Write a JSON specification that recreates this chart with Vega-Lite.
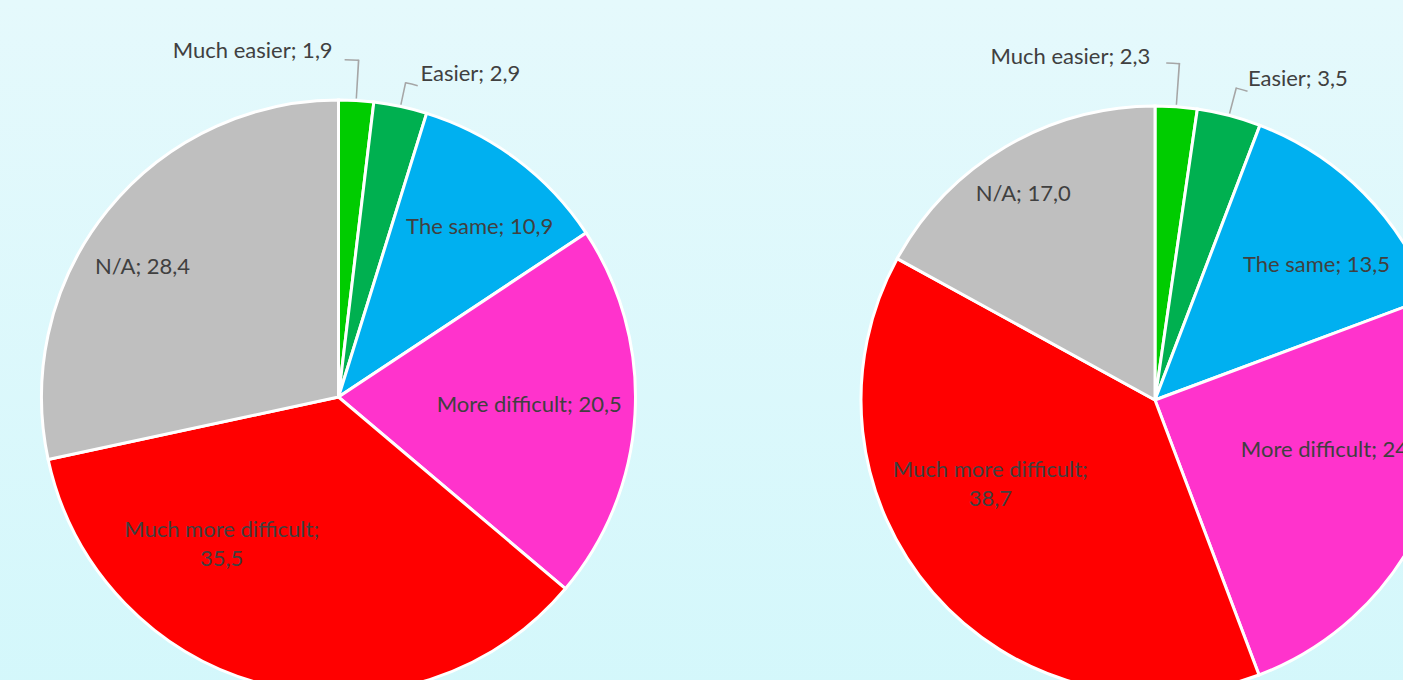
{
  "$schema": "https://vega.github.io/schema/vega-lite/v6.json",
  "padding": 0,
  "spacing": 0,
  "background": "#dcf8fb",
  "config": {"view": {"stroke": null}, "text": {"font": "Lato", "fontSize": 22, "color": "#404040"}},
  "datasets": {
    "survey": [
      {"pie": "A", "category": "Much easier", "value": 1.9, "order": 1},
      {"pie": "A", "category": "Easier", "value": 2.9, "order": 2},
      {"pie": "A", "category": "The same", "value": 10.9, "order": 3},
      {"pie": "A", "category": "More difficult", "value": 20.5, "order": 4},
      {"pie": "A", "category": "Much more difficult", "value": 35.5, "order": 5},
      {"pie": "A", "category": "N/A", "value": 28.4, "order": 6},
      {"pie": "B", "category": "Much easier", "value": 2.3, "order": 1},
      {"pie": "B", "category": "Easier", "value": 3.5, "order": 2},
      {"pie": "B", "category": "The same", "value": 13.5, "order": 3},
      {"pie": "B", "category": "More difficult", "value": 24.9, "order": 4},
      {"pie": "B", "category": "Much more difficult", "value": 38.7, "order": 5},
      {"pie": "B", "category": "N/A", "value": 17.0, "order": 6}
    ]
  },
  "hconcat": [
    {
      "width": 677,
      "height": 794,
      "view": {"stroke": null, "fill": {"gradient": "linear", "x1": 0, "y1": 0, "x2": 0, "y2": 1, "stops": [{"offset": 0, "color": "#e5f9fc"}, {"offset": 1, "color": "#d1f7fb"}]}},
      "data": {"name": "survey"},
      "transform": [
        {"filter": "datum.pie === 'A'"},
        {"window": [{"op": "sum", "field": "value", "as": "cum"}], "sort": [{"field": "order"}], "frame": [null, 0]},
        {"calculate": "datum.cum - datum.value / 2", "as": "mid"},
        {"calculate": "datum.mid - 0.04", "as": "l1"},
        {"calculate": "datum.mid + 0.04", "as": "l2"},
        {"calculate": "datum.mid - 0.66", "as": "hl"},
        {"calculate": "datum.mid + 0.62", "as": "hr"},
        {"calculate": "datum.category + (datum.order === 5 ? ';\\n' : '; ') + replace(format(datum.value, '.1f'), '.', ',')", "as": "label"}
      ],
      "layer": [
        {
          "mark": {"type": "arc", "radius": 297, "stroke": "white", "strokeWidth": 3},
          "encoding": {
            "theta": {"field": "value", "type": "quantitative", "stack": true},
            "order": {"field": "order", "type": "quantitative"},
            "color": {"field": "category", "type": "nominal", "legend": null,
              "scale": {"domain": ["Much easier", "Easier", "The same", "More difficult", "Much more difficult", "N/A"],
                        "range": ["#00cc00", "#00b050", "#00b0f0", "#ff33cc", "#ff0000", "#bfbfbf"]}}
          }
        },
        {
          "transform": [{"filter": "datum.order === 1"}],
          "mark": {"type": "arc", "innerRadius": 299, "outerRadius": 338, "fill": "#a6a6a6"},
          "encoding": {"theta": {"field": "l1", "type": "quantitative", "stack": null}, "theta2": {"field": "l2"}}
        },
        {
          "transform": [{"filter": "datum.order === 1"}],
          "mark": {"type": "arc", "innerRadius": 336.5, "outerRadius": 338, "fill": "#a6a6a6"},
          "encoding": {"theta": {"field": "hl", "type": "quantitative", "stack": null}, "theta2": {"field": "mid"}}
        },
        {
          "transform": [{"filter": "datum.order === 2"}],
          "mark": {"type": "arc", "innerRadius": 299, "outerRadius": 322, "fill": "#a6a6a6"},
          "encoding": {"theta": {"field": "l1", "type": "quantitative", "stack": null}, "theta2": {"field": "l2"}}
        },
        {
          "transform": [{"filter": "datum.order === 2"}],
          "mark": {"type": "arc", "innerRadius": 320.5, "outerRadius": 322, "fill": "#a6a6a6"},
          "encoding": {"theta": {"field": "mid", "type": "quantitative", "stack": null}, "theta2": {"field": "hr"}}
        },
        {
          "transform": [{"filter": "datum.order === 1"}],
          "mark": {"type": "text", "radius": 338, "align": "right", "baseline": "middle", "dx": -26, "dy": -9},
          "encoding": {"theta": {"field": "mid", "type": "quantitative", "stack": null}, "text": {"field": "label"}}
        },
        {
          "transform": [{"filter": "datum.order === 2"}],
          "mark": {"type": "text", "radius": 330, "align": "left", "baseline": "middle", "dx": 13, "dy": 0},
          "encoding": {"theta": {"field": "mid", "type": "quantitative", "stack": null}, "text": {"field": "label"}}
        },
        {
          "transform": [{"filter": "datum.order === 3"}],
          "mark": {"type": "text", "radius": 212, "align": "center", "baseline": "middle", "dx": 14},
          "encoding": {"theta": {"field": "mid", "type": "quantitative", "stack": null}, "text": {"field": "label"}}
        },
        {
          "transform": [{"filter": "datum.order === 4"}],
          "mark": {"type": "text", "radius": 196, "align": "center", "baseline": "middle", "dx": -5, "dy": -3},
          "encoding": {"theta": {"field": "mid", "type": "quantitative", "stack": null}, "text": {"field": "label"}}
        },
        {
          "transform": [{"filter": "datum.order === 5"}],
          "mark": {"type": "text", "radius": 189, "align": "center", "baseline": "middle", "dx": -71, "dy": -50, "lineBreak": "\n", "lineHeight": 29},
          "encoding": {"theta": {"field": "mid", "type": "quantitative", "stack": null}, "text": {"field": "label"}}
        },
        {
          "transform": [{"filter": "datum.order === 6"}],
          "mark": {"type": "text", "radius": 230, "align": "center", "baseline": "middle", "dx": -17, "dy": 15},
          "encoding": {"theta": {"field": "mid", "type": "quantitative", "stack": null}, "text": {"field": "label"}}
        }
      ]
    },
    {
      "width": 956,
      "height": 800,
      "view": {"stroke": null, "fill": {"gradient": "linear", "x1": 0, "y1": 0, "x2": 0, "y2": 1, "stops": [{"offset": 0, "color": "#e5f9fc"}, {"offset": 1, "color": "#d1f7fb"}]}},
      "data": {"name": "survey"},
      "transform": [
        {"filter": "datum.pie === 'B'"},
        {"window": [{"op": "sum", "field": "value", "as": "cum"}], "sort": [{"field": "order"}], "frame": [null, 0]},
        {"calculate": "datum.cum - datum.value / 2", "as": "mid"},
        {"calculate": "datum.mid - 0.04", "as": "l1"},
        {"calculate": "datum.mid + 0.04", "as": "l2"},
        {"calculate": "datum.mid - 0.62", "as": "hl"},
        {"calculate": "datum.mid + 0.58", "as": "hr"},
        {"calculate": "datum.category + (datum.order === 5 ? ';\\n' : '; ') + replace(format(datum.value, '.1f'), '.', ',')", "as": "label"}
      ],
      "layer": [
        {
          "mark": {"type": "arc", "radius": 294, "stroke": "white", "strokeWidth": 3},
          "encoding": {
            "theta": {"field": "value", "type": "quantitative", "stack": true},
            "order": {"field": "order", "type": "quantitative"},
            "color": {"field": "category", "type": "nominal", "legend": null,
              "scale": {"domain": ["Much easier", "Easier", "The same", "More difficult", "Much more difficult", "N/A"],
                        "range": ["#00cc00", "#00b050", "#00b0f0", "#ff33cc", "#ff0000", "#bfbfbf"]}}
          }
        },
        {
          "transform": [{"filter": "datum.order === 1"}],
          "mark": {"type": "arc", "innerRadius": 296, "outerRadius": 338, "fill": "#a6a6a6"},
          "encoding": {"theta": {"field": "l1", "type": "quantitative", "stack": null}, "theta2": {"field": "l2"}}
        },
        {
          "transform": [{"filter": "datum.order === 1"}],
          "mark": {"type": "arc", "innerRadius": 336.5, "outerRadius": 338, "fill": "#a6a6a6"},
          "encoding": {"theta": {"field": "hl", "type": "quantitative", "stack": null}, "theta2": {"field": "mid"}}
        },
        {
          "transform": [{"filter": "datum.order === 2"}],
          "mark": {"type": "arc", "innerRadius": 296, "outerRadius": 323, "fill": "#a6a6a6"},
          "encoding": {"theta": {"field": "l1", "type": "quantitative", "stack": null}, "theta2": {"field": "l2"}}
        },
        {
          "transform": [{"filter": "datum.order === 2"}],
          "mark": {"type": "arc", "innerRadius": 321.5, "outerRadius": 323, "fill": "#a6a6a6"},
          "encoding": {"theta": {"field": "mid", "type": "quantitative", "stack": null}, "theta2": {"field": "hr"}}
        },
        {
          "transform": [{"filter": "datum.order === 1"}],
          "mark": {"type": "text", "radius": 337, "align": "right", "baseline": "middle", "dx": -29, "dy": -7},
          "encoding": {"theta": {"field": "mid", "type": "quantitative", "stack": null}, "text": {"field": "label"}}
        },
        {
          "transform": [{"filter": "datum.order === 2"}],
          "mark": {"type": "text", "radius": 325, "align": "left", "baseline": "middle", "dx": 11, "dy": -6},
          "encoding": {"theta": {"field": "mid", "type": "quantitative", "stack": null}, "text": {"field": "label"}}
        },
        {
          "transform": [{"filter": "datum.order === 3"}],
          "mark": {"type": "text", "radius": 205, "align": "center", "baseline": "middle", "dx": 16, "dy": 9},
          "encoding": {"theta": {"field": "mid", "type": "quantitative", "stack": null}, "text": {"field": "label"}}
        },
        {
          "transform": [{"filter": "datum.order === 4"}],
          "mark": {"type": "text", "radius": 192, "align": "left", "baseline": "middle", "dx": -89, "dy": -29},
          "encoding": {"theta": {"field": "mid", "type": "quantitative", "stack": null}, "text": {"field": "label"}}
        },
        {
          "transform": [{"filter": "datum.order === 5"}],
          "mark": {"type": "text", "radius": 185, "align": "center", "baseline": "middle", "dx": -25, "dy": -51, "lineBreak": "\n", "lineHeight": 29},
          "encoding": {"theta": {"field": "mid", "type": "quantitative", "stack": null}, "text": {"field": "label"}}
        },
        {
          "transform": [{"filter": "datum.order === 6"}],
          "mark": {"type": "text", "radius": 239, "align": "center", "baseline": "middle", "dx": -10},
          "encoding": {"theta": {"field": "mid", "type": "quantitative", "stack": null}, "text": {"field": "label"}}
        }
      ]
    }
  ]
}
